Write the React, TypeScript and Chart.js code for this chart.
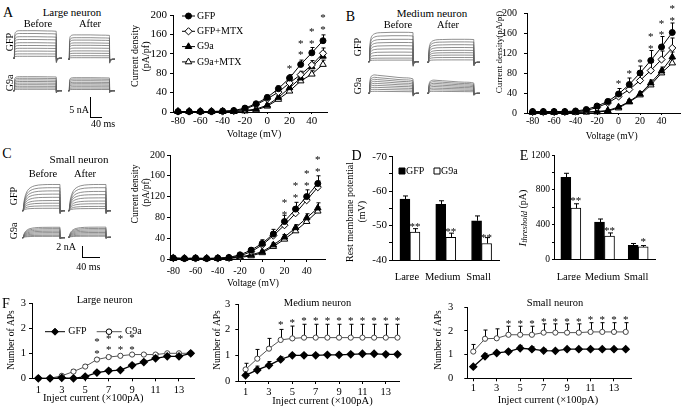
import React, { useEffect, useRef } from 'react';
import { Chart, registerables } from 'chart.js';

Chart.register(...registerables);

const SERIF = '"Liberation Serif", "Times New Roman", Times, serif';
Chart.defaults.font.family = SERIF;
Chart.defaults.color = '#000';

// ================= DATA =================
// Panels A–C: current density (pA/pf) vs voltage (mV)
const VOLTAGES = [-80, -70, -60, -50, -40, -30, -20, -10, 0, 10, 20, 30, 40, 50];
const VOLT_TICKS = [-80, -60, -40, -20, 0, 20, 40];
const DENSITY_TICKS = [0, 40, 80, 120, 160, 200];
const IV_NAMES = ['GFP', 'GFP+MTX', 'G9a', 'G9a+MTX'];

const LARGE_GFP = [1, 1, 1, 1, 2, 3, 8, 17, 30, 48, 70, 98, 122, 147];
const LARGE_GFP_MTX = [1, 1, 1, 1, 1, 2, 6, 15, 27, 41, 60, 77, 97, 121];
const LARGE_G9A = [1, 1, 1, 1, 1, 1, 3, 6, 14, 30, 50, 70, 93, 115];
const LARGE_G9A_MTX = [1, 1, 1, 1, 1, 1, 2, 4, 12, 26, 43, 64, 78, 98];
const LARGE_GFP_ERR = [1, 1, 1, 1, 1, 1, 2, 3, 5, 6, 7, 9, 11, 12];
const LARGE_GFP_MTX_ERR = [1, 1, 1, 1, 1, 1, 2, 3, 4, 5, 6, 7, 9, 11];
const LARGE_G9A_ERR = [1, 1, 1, 1, 1, 1, 1, 2, 3, 4, 5, 6, 8, 10];
const LARGE_G9A_MTX_ERR = [1, 1, 1, 1, 1, 1, 1, 2, 3, 4, 5, 6, 7, 9];
const LARGE_STAR_V = [20, 30, 30, 40, 40, 50, 50];
const LARGE_STAR_Y = [93, 121, 145, 145, 170, 174, 198];

const MEDIUM_GFP = [3, 3, 3, 3, 4, 7, 14, 23, 38, 57, 80, 105, 132, 161];
const MEDIUM_GFP_MTX = [2, 2, 2, 2, 3, 5, 11, 20, 33, 47, 65, 85, 107, 130];
const MEDIUM_G9A = [2, 2, 2, 2, 2, 2, 3, 5, 12, 23, 38, 60, 84, 112];
const MEDIUM_G9A_MTX = [1, 1, 1, 1, 1, 2, 2, 4, 10, 22, 36, 56, 80, 100];
const MEDIUM_GFP_ERR = [1, 1, 1, 1, 1, 2, 3, 5, 11, 13, 14, 20, 21, 19];
const MEDIUM_GFP_MTX_ERR = [1, 1, 1, 1, 1, 2, 3, 5, 6, 7, 10, 16, 17, 20];
const MEDIUM_G9A_ERR = [1, 1, 1, 1, 1, 1, 1, 2, 3, 4, 5, 6, 8, 10];
const MEDIUM_G9A_MTX_ERR = [1, 1, 1, 1, 1, 1, 1, 2, 3, 4, 5, 5, 7, 8];
const MEDIUM_STAR_V = [0, 10, 20, 30, 30, 40, 40, 50, 50];
const MEDIUM_STAR_Y = [62, 83, 104, 133, 156, 160, 182, 189, 212];

const SMALL_GFP = [2, 1, 2, 1, 2, 3, 8, 17, 30, 48, 72, 96, 120, 145];
const SMALL_GFP_MTX = [2, 1, 1, 1, 1, 2, 6, 14, 27, 45, 65, 88, 113, 138];
const SMALL_G9A = [1, 1, 1, 1, 1, 2, 4, 8, 14, 27, 42, 60, 79, 98];
const SMALL_G9A_MTX = [1, 1, 1, 1, 1, 1, 3, 6, 12, 24, 38, 54, 72, 92];
const SMALL_GFP_ERR = [1, 1, 1, 1, 1, 1, 2, 5, 7, 9, 12, 13, 13, 15];
const SMALL_GFP_MTX_ERR = [1, 1, 1, 1, 1, 1, 2, 4, 6, 7, 9, 10, 11, 12];
const SMALL_G9A_ERR = [1, 1, 1, 1, 1, 1, 1, 2, 3, 4, 5, 6, 8, 10];
const SMALL_G9A_MTX_ERR = [1, 1, 1, 1, 1, 1, 1, 2, 3, 4, 5, 6, 7, 8];
const SMALL_STAR_V = [20, 20, 30, 30, 40, 40, 50, 50];
const SMALL_STAR_Y = [89, 112, 121, 144, 145, 167, 171, 194];

// Panels D, E
const CELL_SIZES = ['Large', 'Medium', 'Small'];
const RMP_TICKS = [-70, -65, -60, -55, -50, -45, -40];
const RMP_GFP = [-57.7, -56.2, -51.4];
const RMP_G9A = [-48.1, -46.6, -44.8];
const RMP_GFP_ERR = [0.9, 1.0, 1.4];
const RMP_G9A_ERR = [1.0, 1.2, 1.7];
const RMP_STARS = ['**', '**', '**'];
const RMP_STAR_Y = [-50.2, -48.7, -47.0];

const THRESH_TICKS = [0, 200, 400, 600, 800, 1000, 1200];
const THRESH_GFP = [945, 430, 164];
const THRESH_G9A = [590, 270, 145];
const THRESH_GFP_ERR = [45, 35, 20];
const THRESH_G9A_ERR = [50, 35, 15];
const THRESH_STARS = ['**', '**', '*'];
const THRESH_STAR_Y = [693, 354, 229];

// Panel F: number of APs vs injected current (x100 pA)
const CURRENTS = [1, 2, 3, 4, 5, 6, 7, 8, 9, 10, 11, 12, 13, 14];
const CURRENT_TICKS = [1, 3, 5, 7, 9, 11, 13];
const AP_TICKS = [0, 1, 2, 3];

const F_LARGE_GFP = [0, 0, 0.02, 0, 0.07, 0.23, 0.3, 0.33, 0.52, 0.65, 0.8, 0.88, 0.88, 1.0];
const F_LARGE_G9A = [0, 0, 0.1, 0.27, 0.47, 0.75, 0.85, 0.9, 0.95, 0.95, 0.95, 1.0, 1.0, 1.0];
const F_LARGE_GFP_ERR = [0, 0, 0.02, 0, 0.04, 0.06, 0.07, 0.07, 0.08, 0.07, 0.06, 0.05, 0.05, 0];
const F_LARGE_G9A_ERR = [0, 0, 0.05, 0.08, 0.08, 0.06, 0.05, 0.05, 0.04, 0.04, 0.04, 0, 0, 0];
const F_LARGE_STAR_X = [6, 6, 7, 7, 8, 8, 9, 9];
const F_LARGE_STAR_Y = [1.07, 1.53, 1.2, 1.65, 1.2, 1.65, 1.22, 1.7];

const F_MEDIUM_GFP = [0.22, 0.43, 0.61, 0.84, 1.0, 1.0, 1.0, 1.02, 1.02, 1.04, 1.06, 1.06, 1.04, 1.04];
const F_MEDIUM_G9A = [0.45, 0.87, 1.26, 1.6, 1.66, 1.69, 1.69, 1.69, 1.69, 1.69, 1.69, 1.69, 1.69, 1.69];
const F_MEDIUM_GFP_ERR = [0.08, 0.15, 0.15, 0.1, 0.05, 0.05, 0.05, 0.05, 0.05, 0.05, 0.05, 0.05, 0.05, 0.05];
const F_MEDIUM_G9A_ERR = [0.24, 0.36, 0.4, 0.41, 0.48, 0.52, 0.52, 0.52, 0.52, 0.52, 0.52, 0.52, 0.52, 0.52];
const F_MEDIUM_STAR_X = [4, 5, 6, 7, 8, 9, 10, 11, 12, 13, 14];
const F_MEDIUM_STAR_Y = [2.27, 2.34, 2.4, 2.4, 2.4, 2.4, 2.4, 2.4, 2.4, 2.4, 2.4];

const F_SMALL_GFP = [0.49, 0.93, 1.07, 1.13, 1.27, 1.23, 1.17, 1.16, 1.23, 1.23, 1.23, 1.23, 1.23, 1.23];
const F_SMALL_G9A = [1.13, 1.67, 1.69, 1.84, 1.84, 1.84, 1.93, 1.93, 1.93, 1.93, 1.96, 1.96, 1.96, 1.96];
const F_SMALL_GFP_ERR = [0.05, 0.12, 0.06, 0.06, 0.12, 0.1, 0.07, 0.05, 0.04, 0.04, 0.04, 0.04, 0.04, 0.04];
const F_SMALL_G9A_ERR = [0.3, 0.37, 0.4, 0.36, 0.36, 0.36, 0.37, 0.37, 0.37, 0.37, 0.39, 0.39, 0.39, 0.39];
const F_SMALL_STAR_X = [4, 5, 6, 7, 8, 9, 10, 11, 12, 13, 14];
const F_SMALL_STAR_Y = [2.36, 2.4, 2.4, 2.47, 2.47, 2.47, 2.47, 2.56, 2.56, 2.56, 2.56];

// Current traces (time in ms; normalised kinetics; step amplitudes in nA)
const TRACE_T = [0, 5, 5.5, 7, 10, 15, 22, 32, 50, 80, 120, 150, 150.5, 152, 156, 162, 170];
const SHAPE_LARGE = [0, 0, 0.7, 0.9, 0.96, 0.99, 1, 1, 1, 1, 0.99, 0.98, -0.16, -0.09, -0.03, 0, 0];
const SHAPE_MEDIUM = [0, 0, 0.35, 0.62, 0.8, 0.9, 0.95, 0.98, 0.99, 1, 1, 0.99, -0.16, -0.09, -0.03, 0, 0];
const SHAPE_MEDIUM_INACT = [0, 0, 0.4, 0.72, 0.9, 0.97, 1, 0.98, 0.95, 0.9, 0.84, 0.78, -0.16, -0.09, -0.03, 0, 0];
const SHAPE_SMALL = [0, 0, 0.08, 0.25, 0.45, 0.63, 0.77, 0.87, 0.95, 0.99, 1, 1, -0.12, -0.06, -0.02, 0, 0];

const LARGE_GFP_BEFORE_NA = [6.9, 6.2, 5.4, 4.7, 3.9, 3.2, 2.5, 1.8, 1.1, 0.5];
const LARGE_GFP_AFTER_NA = [6.1, 5.4, 4.8, 4.1, 3.5, 2.8, 2.1, 1.5, 0.9, 0.4];
const LARGE_G9A_BEFORE_NA = [3.5, 3.1, 2.7, 2.3, 1.9, 1.5, 1.1, 0.7, 0.35];
const LARGE_G9A_AFTER_NA = [3.25, 2.9, 2.5, 2.1, 1.75, 1.4, 1.0, 0.65, 0.3];
const MEDIUM_GFP_BEFORE_NA = [7.35, 6.5, 5.6, 4.8, 4.0, 3.2, 2.4, 1.6, 0.9, 0.4];
const MEDIUM_GFP_AFTER_NA = [5.75, 5.1, 4.4, 3.7, 3.0, 2.4, 1.8, 1.2, 0.6];
const MEDIUM_G9A_BEFORE_NA = [4.6, 4.0, 3.5, 3.0, 2.5, 2.0, 1.5, 1.0, 0.5];
const MEDIUM_G9A_AFTER_NA = [3.3, 2.9, 2.5, 2.1, 1.7, 1.3, 0.9, 0.5];
const SMALL_GFP_BEFORE_NA = [4.9, 4.3, 3.7, 3.1, 2.5, 1.9, 1.4, 0.9, 0.45];
const SMALL_GFP_AFTER_NA = [4.9, 4.3, 3.6, 3.0, 2.4, 1.8, 1.3, 0.8, 0.4];
const SMALL_G9A_BEFORE_NA = [1.95, 1.7, 1.45, 1.2, 0.95, 0.7, 0.45, 0.25];
const SMALL_G9A_AFTER_NA = [1.9, 1.65, 1.4, 1.15, 0.9, 0.65, 0.4, 0.2];

// ================= HELPERS =================
const IV_STYLES = [
  { pointStyle: 'circle', fill: '#000', r: 3 },
  { pointStyle: 'rectRot', fill: '#fff', r: 3.6 },
  { pointStyle: 'triangle', fill: '#000', r: 3.8 },
  { pointStyle: 'triangle', fill: '#fff', r: 3.8 },
];

function fontStr(size: number, italic?: boolean) {
  return `${italic ? 'italic ' : ''}${size}px ${SERIF}`;
}

function drawMarker(ctx: any, style: string, x: number, y: number, r: number, fill: string) {
  ctx.beginPath();
  if (style === 'circle') ctx.arc(x, y, r, 0, Math.PI * 2);
  else if (style === 'rectRot') {
    ctx.moveTo(x, y - r); ctx.lineTo(x + r, y); ctx.lineTo(x, y + r); ctx.lineTo(x - r, y); ctx.closePath();
  } else if (style === 'triangle') {
    let a = 0;
    ctx.moveTo(x + Math.sin(a) * r, y - Math.cos(a) * r);
    a += (2 * Math.PI) / 3;
    ctx.lineTo(x + Math.sin(a) * r, y - Math.cos(a) * r);
    a += (2 * Math.PI) / 3;
    ctx.lineTo(x + Math.sin(a) * r, y - Math.cos(a) * r);
    ctx.closePath();
  } else {
    ctx.rect(x - r, y - r, 2 * r, 2 * r);
  }
  ctx.fillStyle = fill;
  ctx.fill();
  ctx.strokeStyle = '#000';
  ctx.lineWidth = 1;
  ctx.stroke();
}

function makeDecor(d: any) {
  const off = d.offset;
  const drawErrors = (chart: any) => {
    if (!d.errors) return;
    const ctx = chart.ctx;
    ctx.save();
    ctx.strokeStyle = '#000';
    ctx.lineWidth = 1;
    d.errors.forEach((errs: number[] | null, di: number) => {
      if (!errs) return;
      const meta = chart.getDatasetMeta(di);
      const ys = chart.scales[meta.yAxisID];
      const ds = chart.data.datasets[di];
      meta.data.forEach((el: any, j: number) => {
        const e = errs[j];
        if (!e) return;
        const raw = ds.data[j];
        const v = typeof raw === 'number' ? raw : raw.y;
        const y1 = ys.getPixelForValue(v + (d.errSign || 1) * e);
        const x = Math.round(el.x) + 0.5;
        const cap = d.capW || 4;
        ctx.beginPath();
        ctx.moveTo(x, el.y);
        ctx.lineTo(x, y1);
        ctx.moveTo(x - cap / 2, y1);
        ctx.lineTo(x + cap / 2, y1);
        ctx.stroke();
      });
    });
    ctx.restore();
  };
  const drawRest = (chart: any) => {
    const ctx = chart.ctx;
    ctx.save();
    if (d.stars) {
      ctx.fillStyle = '#000';
      ctx.font = fontStr(d.starSize || 11);
      ctx.textAlign = 'center';
      ctx.textBaseline = 'alphabetic';
      const xs = chart.scales.x;
      const ys = chart.scales.y;
      d.stars.forEach((s: any) => {
        const px = xs.getPixelForValue(s.x) + (s.dx || 0);
        const py = ys.getPixelForValue(s.y);
        ctx.fillText(s.t, px, py + 5);
      });
    }
    if (d.legend) {
      d.legend.forEach((it: any) => {
        const y = it.y - off[1];
        if (it.x1 !== undefined) {
          ctx.beginPath();
          ctx.strokeStyle = it.lineColor || '#000';
          ctx.lineWidth = 1;
          ctx.moveTo(it.x1 - off[0], y);
          ctx.lineTo(it.x2 - off[0], y);
          ctx.stroke();
        }
        drawMarker(ctx, it.style, it.mx - off[0], y, it.r, it.fill);
        ctx.fillStyle = '#000';
        ctx.font = fontStr(it.size || 10);
        ctx.textAlign = 'left';
        ctx.textBaseline = 'middle';
        ctx.fillText(it.label, it.tx - off[0], y);
      });
    }
    if (d.texts) {
      d.texts.forEach((item: any) => {
        ctx.save();
        ctx.translate(item.x - off[0], item.y - off[1]);
        if (item.rot) ctx.rotate((item.rot * Math.PI) / 180);
        ctx.fillStyle = '#000';
        ctx.textBaseline = 'middle';
        ctx.textAlign = 'left';
        const parts = item.parts || [{ t: item.t, size: item.size || 10, italic: item.italic }];
        let total = 0;
        parts.forEach((p: any) => {
          ctx.font = fontStr(p.size, p.italic);
          total += ctx.measureText(p.t).width;
        });
        let x = -total / 2;
        parts.forEach((p: any) => {
          ctx.font = fontStr(p.size, p.italic);
          ctx.fillText(p.t, x, p.dy || 0);
          x += ctx.measureText(p.t).width;
        });
        ctx.restore();
      });
    }
    ctx.restore();
  };
  return {
    id: 'decor',
    beforeDatasetsDraw(chart: any) {
      if (!d.errorsOnTop) drawErrors(chart);
    },
    afterDatasetsDraw(chart: any) {
      if (d.errorsOnTop) drawErrors(chart);
      drawRest(chart);
    },
  };
}

function frameOf(box: number[], area: number[]) {
  const [bl, bt, bw, bh] = box;
  const [L, T, R, B] = area;
  return {
    padding: { left: 0, top: T - bt, right: bl + bw - R, bottom: 0 },
    yW: L - bl,
    xH: bt + bh - B,
  };
}

function linearAxis(o: any) {
  return {
    type: 'linear',
    min: o.min,
    max: o.max,
    reverse: !!o.reverse,
    afterBuildTicks: (s: any) => {
      s.ticks = o.ticks.map((v: number) => ({ value: v }));
    },
    afterFit: (s: any) => {
      if (o.w !== undefined) s.width = o.w;
      if (o.h !== undefined) s.height = o.h;
    },
    ticks: {
      autoSkip: false,
      maxRotation: 0,
      minRotation: 0,
      padding: o.pad,
      color: '#000',
      font: { size: o.size, family: SERIF },
      callback: (v: number) => (o.show && !o.show(v) ? '' : String(v)),
    },
    grid: { display: true, drawOnChartArea: false, drawTicks: true, tickLength: o.tl, color: '#000', lineWidth: 1 },
    border: { display: true, color: '#000', width: 1 },
  };
}

const BASE_OPTS = {
  responsive: false,
  maintainAspectRatio: false,
  animation: false,
  events: [],
  devicePixelRatio: 1,
};

function ivConfig(o: any) {
  const fr = frameOf(o.box, o.area);
  const datasets = o.series.map((vals: number[], i: number) => ({
    label: IV_NAMES[i],
    data: VOLTAGES.map((v, j) => ({ x: v, y: vals[j] })),
    borderColor: '#000',
    borderWidth: 1,
    pointStyle: IV_STYLES[i].pointStyle,
    pointRadius: IV_STYLES[i].r,
    pointBackgroundColor: IV_STYLES[i].fill,
    pointBorderColor: '#000',
    pointBorderWidth: 1,
    tension: 0,
    clip: false,
  }));
  return {
    type: 'line',
    data: { datasets },
    options: {
      ...BASE_OPTS,
      layout: { padding: fr.padding },
      plugins: { legend: { display: false }, tooltip: { enabled: false } },
      scales: {
        x: linearAxis({ min: o.xMin, max: o.xMax, ticks: VOLT_TICKS, tl: o.xTl, pad: o.xPad, size: o.tickSize, h: fr.xH }),
        y: linearAxis({ min: 0, max: 200, ticks: DENSITY_TICKS, tl: o.yTl, pad: o.yPad, size: o.tickSize, w: fr.yW }),
      },
    },
    plugins: [
      makeDecor({
        offset: [o.box[0], o.box[1]],
        errors: o.errs,
        stars: o.starV.map((v: number, i: number) => ({ x: v, y: o.starY[i], t: '*' })),
        starSize: 11,
        texts: o.texts,
        legend: o.legend,
      }),
    ],
  };
}

function barConfig(o: any) {
  const fr = frameOf(o.box, o.area);
  return {
    type: 'bar',
    data: {
      labels: CELL_SIZES,
      datasets: [
        { label: 'GFP', data: o.gfp, backgroundColor: '#000', borderColor: '#000', borderWidth: 1, barThickness: 10 },
        { label: 'G9a', data: o.g9a, backgroundColor: '#fff', borderColor: '#000', borderWidth: 1, barThickness: 10 },
      ],
    },
    options: {
      ...BASE_OPTS,
      layout: { padding: fr.padding },
      plugins: { legend: { display: false }, tooltip: { enabled: false } },
      scales: {
        x: {
          type: 'category',
          offset: true,
          grid: { display: false },
          border: { display: true, color: '#000', width: 1 },
          ticks: { padding: o.xPad, color: '#000', font: { size: o.xSize, family: SERIF }, labelOffset: o.labelOffset, maxRotation: 0, autoSkip: false },
          afterFit: (s: any) => {
            s.height = fr.xH;
          },
        },
        y: linearAxis({ min: o.yMin, max: o.yMax, reverse: o.reverse, ticks: o.yTicks, show: o.show, tl: o.yTl, pad: o.yPad, size: o.ySize, w: fr.yW }),
      },
    },
    plugins: [
      makeDecor({
        offset: [o.box[0], o.box[1]],
        errors: [o.gfpErr, o.g9aErr],
        errSign: o.reverse ? -1 : 1,
        errorsOnTop: true,
        capW: 5,
        stars: o.stars.map((t: string, i: number) => ({ x: i, y: o.starY[i], t, dx: 5 })),
        starSize: 11,
        texts: o.texts,
        legend: o.legend,
      }),
    ],
  };
}

function apConfig(o: any) {
  const fr = frameOf(o.box, o.area);
  return {
    type: 'line',
    data: {
      datasets: [
        {
          label: 'GFP',
          data: CURRENTS.map((c, i) => ({ x: c, y: o.gfp[i] })),
          borderColor: '#000',
          borderWidth: 1.3,
          pointStyle: 'rectRot',
          pointRadius: 3.5,
          pointBackgroundColor: '#000',
          pointBorderColor: '#000',
          clip: false,
        },
        {
          label: 'G9a',
          data: CURRENTS.map((c, i) => ({ x: c, y: o.g9a[i] })),
          borderColor: '#555',
          borderWidth: 1,
          pointStyle: 'circle',
          pointRadius: 2.6,
          pointBackgroundColor: '#fff',
          pointBorderColor: '#444',
          clip: false,
        },
      ],
    },
    options: {
      ...BASE_OPTS,
      layout: { padding: fr.padding },
      plugins: { legend: { display: false }, tooltip: { enabled: false } },
      scales: {
        x: linearAxis({ min: o.xMin, max: o.xMax, ticks: CURRENT_TICKS, tl: 3, pad: o.xPad, size: 10.5, h: fr.xH }),
        y: linearAxis({ min: 0, max: 3, ticks: AP_TICKS, tl: 3, pad: o.yPad, size: 10.5, w: fr.yW }),
      },
    },
    plugins: [
      makeDecor({
        offset: [o.box[0], o.box[1]],
        errors: [o.gfpErr, o.g9aErr],
        capW: 4,
        stars: o.starX.map((x: number, i: number) => ({ x, y: o.starY[i], t: '*' })),
        starSize: 11,
        texts: o.texts,
        legend: o.legend,
      }),
    ],
  };
}

function traceSetup(t: any) {
  const maxLevel = Math.max(...t.levels);
  const left = Math.round(t.l);
  const width = Math.round(((t.end - t.l) * 170) / 150);
  const top = Math.round(t.base - maxLevel * t.ppn - 3);
  const hTop = t.base - top;
  const height = Math.ceil(hTop + 6);
  const box = [left, top, width, height];
  const config = {
    type: 'line',
    data: {
      datasets: t.levels.map((lv: number) => ({
        data: TRACE_T.map((tm, i) => ({ x: tm, y: lv * t.shape[i] })),
        borderColor: '#606060',
        borderWidth: 0.7,
        pointRadius: 0,
        cubicInterpolationMode: 'monotone',
        clip: false,
      })),
    },
    options: {
      ...BASE_OPTS,
      layout: { padding: 0 },
      plugins: { legend: { display: false }, tooltip: { enabled: false } },
      scales: {
        x: { type: 'linear', display: false, min: 0, max: 170 },
        y: { type: 'linear', display: false, min: -(height - hTop) / t.ppn, max: hTop / t.ppn },
      },
    },
  };
  return { box, config };
}

// ================= COMPONENTS =================
function ChartCanvas({ box, config }: { box: number[]; config: any }) {
  const ref = useRef<HTMLCanvasElement>(null);
  useEffect(() => {
    const chart = new Chart(ref.current as HTMLCanvasElement, config);
    return () => chart.destroy();
  }, []);
  const [l, t, w, h] = box;
  return <canvas ref={ref} width={w} height={h} style={{ position: 'absolute', left: l, top: t, width: w, height: h }} />;
}

function Label({ t, x, y, size = 10, rot = 0 }: any) {
  return (
    <div
      style={{
        position: 'absolute',
        left: x,
        top: y,
        transform: `translate(-50%, -50%) rotate(${rot}deg)`,
        font: `${size}px ${SERIF}`,
        lineHeight: 1,
        whiteSpace: 'nowrap',
        color: '#000',
      }}
    >
      {t}
    </div>
  );
}

const LABELS = [
  { t: 'A', x: 8, y: 12.5, size: 14 },
  { t: 'B', x: 350.5, y: 17, size: 14 },
  { t: 'C', x: 7, y: 154, size: 14 },
  { t: 'D', x: 356.5, y: 156, size: 14 },
  { t: 'E', x: 524, y: 156, size: 14 },
  { t: 'F', x: 6, y: 304, size: 14 },
  { t: 'Large neuron', x: 72, y: 12, size: 11 },
  { t: 'Before', x: 38, y: 24, size: 10.5 },
  { t: 'After', x: 90, y: 24, size: 10.5 },
  { t: 'GFP', x: 10, y: 42, size: 10, rot: -90 },
  { t: 'G9a', x: 10, y: 83, size: 10, rot: -90 },
  { t: '5 nA', x: 79, y: 110, size: 10 },
  { t: '40 ms', x: 103, y: 124, size: 10 },
  { t: 'Medium neuron', x: 432, y: 12.7, size: 11 },
  { t: 'Before', x: 398, y: 25, size: 10.5 },
  { t: 'After', x: 448, y: 25, size: 10.5 },
  { t: 'GFP', x: 358, y: 47, size: 10, rot: -90 },
  { t: 'G9a', x: 358, y: 86, size: 10, rot: -90 },
  { t: 'Small neuron', x: 79, y: 159.3, size: 11 },
  { t: 'Before', x: 43, y: 174.3, size: 10.5 },
  { t: 'After', x: 85, y: 174.3, size: 10.5 },
  { t: 'GFP', x: 14, y: 195.5, size: 10, rot: -90 },
  { t: 'G9a', x: 14, y: 231, size: 10, rot: -90 },
  { t: '2 nA', x: 66, y: 247.3, size: 10 },
  { t: '40 ms', x: 88.3, y: 266.7, size: 10 },
];

const SCALE_BARS = [
  { x: 90, y1: 97, y2: 117, x2: 102 },
  { x: 82, y1: 246, y2: 257, x2: 100 },
];

const TRACES = [
  { l: 13.3, end: 56.7, base: 58.3, ppn: 4, levels: LARGE_GFP_BEFORE_NA, shape: SHAPE_LARGE },
  { l: 68.3, end: 110, base: 59.3, ppn: 4, levels: LARGE_GFP_AFTER_NA, shape: SHAPE_LARGE },
  { l: 13.3, end: 56.7, base: 90.7, ppn: 4, levels: LARGE_G9A_BEFORE_NA, shape: SHAPE_LARGE },
  { l: 68.3, end: 110, base: 90.7, ppn: 4, levels: LARGE_G9A_AFTER_NA, shape: SHAPE_LARGE },
  { l: 368.3, end: 413.3, base: 61.7, ppn: 4, levels: MEDIUM_GFP_BEFORE_NA, shape: SHAPE_MEDIUM },
  { l: 426.7, end: 473.3, base: 62.3, ppn: 4, levels: MEDIUM_GFP_AFTER_NA, shape: SHAPE_MEDIUM },
  { l: 368.3, end: 413.3, base: 93.3, ppn: 4, levels: MEDIUM_G9A_BEFORE_NA, shape: SHAPE_MEDIUM_INACT },
  { l: 426.7, end: 473.3, base: 93.3, ppn: 4, levels: MEDIUM_G9A_AFTER_NA, shape: SHAPE_MEDIUM_INACT },
  { l: 21.7, end: 60, base: 210.7, ppn: 5.35, levels: SMALL_GFP_BEFORE_NA, shape: SHAPE_SMALL },
  { l: 68.3, end: 106, base: 210.7, ppn: 5.35, levels: SMALL_GFP_AFTER_NA, shape: SHAPE_SMALL },
  { l: 21.7, end: 60, base: 237.7, ppn: 5.35, levels: SMALL_G9A_BEFORE_NA, shape: SHAPE_SMALL },
  { l: 68.3, end: 106, base: 237.3, ppn: 5.35, levels: SMALL_G9A_AFTER_NA, shape: SHAPE_SMALL },
];

function buildCharts() {
  const charts: { box: number[]; config: any }[] = [];

  TRACES.forEach((t) => charts.push(traceSetup(t)));

  const legendA = IV_NAMES.map((name, i) => ({
    label: name,
    style: IV_STYLES[i].pointStyle,
    fill: IV_STYLES[i].fill,
    r: IV_STYLES[i].r,
    x1: 182,
    x2: 195,
    mx: 188.5,
    tx: 197,
    y: 16 + i * 15.3,
    size: 10,
  }));

  const boxA = [128, 0, 204, 146];
  charts.push({
    box: boxA,
    config: ivConfig({
      box: boxA,
      area: [173, 15, 327, 112],
      xMin: -84.5,
      xMax: 53.6,
      xTl: 2,
      xPad: 1,
      yTl: 3,
      yPad: 3,
      tickSize: 11,
      series: [LARGE_GFP, LARGE_GFP_MTX, LARGE_G9A, LARGE_G9A_MTX],
      errs: [LARGE_GFP_ERR, LARGE_GFP_MTX_ERR, LARGE_G9A_ERR, LARGE_G9A_MTX_ERR],
      starV: LARGE_STAR_V,
      starY: LARGE_STAR_Y,
      legend: legendA,
      texts: [
        { t: 'Current density', x: 135, y: 56, rot: -90, size: 10 },
        { t: '(pA/pf)', x: 146, y: 56.5, rot: -90, size: 10 },
        { t: 'Voltage (mV)', x: 254, y: 134, size: 10 },
      ],
    }),
  });

  const boxB = [484, 0, 201, 146];
  charts.push({
    box: boxB,
    config: ivConfig({
      box: boxB,
      area: [527, 11, 684, 113],
      xMin: -85.2,
      xMax: 57.2,
      xTl: 2,
      xPad: 0,
      yTl: 3,
      yPad: 7,
      tickSize: 10,
      series: [MEDIUM_GFP, MEDIUM_GFP_MTX, MEDIUM_G9A, MEDIUM_G9A_MTX],
      errs: [MEDIUM_GFP_ERR, MEDIUM_GFP_MTX_ERR, MEDIUM_G9A_ERR, MEDIUM_G9A_MTX_ERR],
      starV: MEDIUM_STAR_V,
      starY: MEDIUM_STAR_Y,
      texts: [
        { t: 'Current density(pA/pf)', x: 500, y: 52, rot: -90, size: 9 },
        { t: 'Voltage (mV)', x: 611.7, y: 136, size: 9.5 },
      ],
    }),
  });

  const boxC = [128, 140, 204, 150];
  charts.push({
    box: boxC,
    config: ivConfig({
      box: boxC,
      area: [170, 155, 325, 259],
      xMin: -83,
      xMax: 56.5,
      xTl: 3,
      xPad: 3,
      yTl: 3,
      yPad: 2,
      tickSize: 10,
      series: [SMALL_GFP, SMALL_GFP_MTX, SMALL_G9A, SMALL_G9A_MTX],
      errs: [SMALL_GFP_ERR, SMALL_GFP_MTX_ERR, SMALL_G9A_ERR, SMALL_G9A_MTX_ERR],
      starV: SMALL_STAR_V,
      starY: SMALL_STAR_Y,
      texts: [
        { t: 'Current density', x: 135, y: 194, rot: -90, size: 9.5 },
        { t: '(pA/pf)', x: 146.5, y: 192.5, rot: -90, size: 9.5 },
        { t: 'Voltage (mV)', x: 253, y: 283.5, size: 9.5 },
      ],
    }),
  });

  const boxD = [340, 145, 165, 135];
  charts.push({
    box: boxD,
    config: barConfig({
      box: boxD,
      area: [392, 156.7, 499.5, 260],
      gfp: RMP_GFP,
      g9a: RMP_G9A,
      gfpErr: RMP_GFP_ERR,
      g9aErr: RMP_G9A_ERR,
      stars: RMP_STARS,
      starY: RMP_STAR_Y,
      yMin: -70,
      yMax: -40,
      reverse: true,
      yTicks: RMP_TICKS,
      show: (v: number) => v % 10 === 0,
      yTl: 3,
      yPad: 2,
      ySize: 11,
      xPad: 3,
      xSize: 10.5,
      labelOffset: -3,
      legend: [
        { label: 'GFP', style: 'rect', fill: '#000', r: 3, mx: 402, tx: 406, y: 171, size: 10 },
        { label: 'G9a', style: 'rect', fill: '#fff', r: 3, mx: 437, tx: 441, y: 171, size: 10 },
      ],
      texts: [
        { t: 'Rest membrane potential', x: 350, y: 212, rot: -90, size: 10 },
        { t: '(mV)', x: 362, y: 211.7, rot: -90, size: 10 },
      ],
    }),
  });

  const boxE = [515, 145, 170, 135];
  charts.push({
    box: boxE,
    config: barConfig({
      box: boxE,
      area: [554, 155, 655, 259.5],
      gfp: THRESH_GFP,
      g9a: THRESH_G9A,
      gfpErr: THRESH_GFP_ERR,
      g9aErr: THRESH_G9A_ERR,
      stars: THRESH_STARS,
      starY: THRESH_STAR_Y,
      yMin: 0,
      yMax: 1200,
      reverse: false,
      yTicks: THRESH_TICKS,
      show: (v: number) => v % 400 === 0,
      yTl: 2,
      yPad: 2,
      ySize: 9.5,
      xPad: 3,
      xSize: 10.5,
      labelOffset: -2,
      texts: [
        {
          x: 523,
          y: 218,
          rot: -90,
          parts: [
            { t: 'I', size: 11, italic: true },
            { t: 'threshold', size: 8.5, italic: true, dy: 2 },
            { t: ' (pA)', size: 10 },
          ],
        },
      ],
    }),
  });

  const boxF1 = [0, 290, 200, 119];
  charts.push({
    box: boxF1,
    config: apConfig({
      box: boxF1,
      area: [32, 303.3, 195, 378.3],
      xMin: 0.46,
      xMax: 14.34,
      xPad: 3,
      yPad: 3,
      gfp: F_LARGE_GFP,
      g9a: F_LARGE_G9A,
      gfpErr: F_LARGE_GFP_ERR,
      g9aErr: F_LARGE_G9A_ERR,
      starX: F_LARGE_STAR_X,
      starY: F_LARGE_STAR_Y,
      legend: [
        { label: 'GFP', style: 'rectRot', fill: '#000', r: 3.5, x1: 45, x2: 65, mx: 55, tx: 68.3, y: 331.7, size: 10 },
        { label: 'G9a', style: 'circle', fill: '#fff', r: 2.8, x1: 96.7, x2: 121.7, mx: 109, tx: 125, y: 331.7, size: 10, lineColor: '#555' },
      ],
      texts: [
        { t: 'Number of APs', x: 11, y: 340, rot: -90, size: 9.5 },
        { t: 'Inject current (\u00d7100pA)', x: 93.3, y: 398.3, size: 10.5 },
        { t: 'Large neuron', x: 104.7, y: 300, size: 10.5 },
      ],
    }),
  });

  const boxF2 = [205, 290, 200, 119];
  charts.push({
    box: boxF2,
    config: apConfig({
      box: boxF2,
      area: [238.3, 304, 401.7, 381],
      xMin: 0.375,
      xMax: 14.19,
      xPad: 2,
      yPad: 5,
      gfp: F_MEDIUM_GFP,
      g9a: F_MEDIUM_G9A,
      gfpErr: F_MEDIUM_GFP_ERR,
      g9aErr: F_MEDIUM_G9A_ERR,
      starX: F_MEDIUM_STAR_X,
      starY: F_MEDIUM_STAR_Y,
      texts: [
        { t: 'Number of APs', x: 217.5, y: 340, rot: -90, size: 9.5 },
        { t: 'Inject current (\u00d7100pA)', x: 322.5, y: 401, size: 10.5 },
        { t: 'Medium neuron', x: 317.5, y: 303.3, size: 10.5 },
      ],
    }),
  });

  const boxF3 = [430, 290, 255, 119];
  charts.push({
    box: boxF3,
    config: apConfig({
      box: boxF3,
      area: [467.3, 303.3, 631, 378.3],
      xMin: 0.49,
      xMax: 14.45,
      xPad: 1,
      yPad: 11,
      gfp: F_SMALL_GFP,
      g9a: F_SMALL_G9A,
      gfpErr: F_SMALL_GFP_ERR,
      g9aErr: F_SMALL_G9A_ERR,
      starX: F_SMALL_STAR_X,
      starY: F_SMALL_STAR_Y,
      texts: [
        { t: 'Number of APs', x: 438, y: 340, rot: -90, size: 9.5 },
        { t: 'Inject current (\u00d7100pA)', x: 548, y: 400, size: 10.5 },
        { t: 'Small neuron', x: 555, y: 303, size: 10.5 },
      ],
    }),
  });

  return charts;
}

export default function App() {
  const charts = buildCharts();
  return (
    <div style={{ position: 'absolute', left: 0, top: 0, width: 685, height: 409, background: '#fff', overflow: 'hidden' }}>
      {charts.map((c, i) => (
        <ChartCanvas key={i} box={c.box} config={c.config} />
      ))}
      {SCALE_BARS.map((s, i) => (
        <React.Fragment key={'sb' + i}>
          <div style={{ position: 'absolute', left: s.x, top: s.y1, width: 1, height: s.y2 - s.y1, background: '#000' }} />
          <div style={{ position: 'absolute', left: s.x, top: s.y2, width: s.x2 - s.x, height: 1, background: '#000' }} />
        </React.Fragment>
      ))}
      {LABELS.map((l, i) => (
        <Label key={'lb' + i} {...l} />
      ))}
    </div>
  );
}
